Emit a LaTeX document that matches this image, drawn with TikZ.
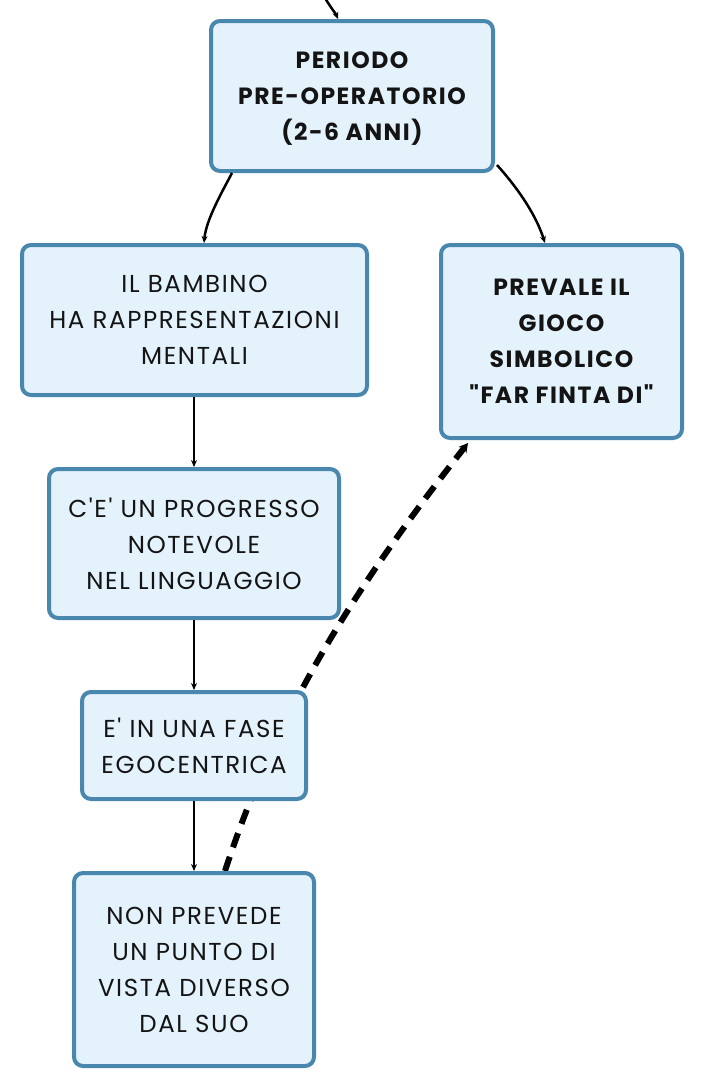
\documentclass[tikz,border=0pt]{standalone}
\usepackage{fontspec}
\newfontfamily\mfont{Poppins}[LetterSpace=6.5]
\usetikzlibrary{arrows.meta,calc}
\pgfdeclarelayer{bg}
\pgfsetlayers{bg,main}
\definecolor{boxfill}{HTML}{E4F2FC}
\definecolor{boxline}{HTML}{4A87AE}
\definecolor{txt}{HTML}{141414}
\tikzset{
  conceptbox/.style={draw=boxline, fill=boxfill, line width=4pt, rounded corners=9pt,
    align=center, inner sep=0pt, text=txt, font=\mfont\fontsize{24.5}{36}\selectfont},
  boldbox/.style={conceptbox, font=\mfont\fontsize{23.5}{36}\selectfont\bfseries},
  link/.style={line width=2.5pt, -{Stealth[length=7pt,width=6pt]}},
  dashlink/.style={line width=6pt, dash pattern=on 15pt off 10pt, -{Stealth[length=9pt,width=10pt]}}
}
\begin{document}
\begin{tikzpicture}[x=1pt,y=-1pt]
\useasboundingbox (0,0) rectangle (705,1088);
\begin{pgfonlayer}{bg}
\fill[white] (0,0) rectangle (705,1088);
\end{pgfonlayer}
\node[boldbox, minimum width=282pt, minimum height=150pt, text depth=0pt] (top) at (352,96)
  {PERIODO\\PRE-OPERATORIO\\(2-6 ANNI)};
\node[conceptbox, minimum width=345pt, minimum height=150pt] (mental) at (194.5,320)
  {IL BAMBINO\\HA RAPPRESENTAZIONI\\MENTALI};
\node[boldbox, minimum width=241pt, minimum height=193pt] (gioco) at (561.5,341.5)
  {PREVALE IL\\GIOCO\\SIMBOLICO\\"FAR FINTA DI"};
\node[conceptbox, minimum width=290pt, minimum height=149pt] (ling) at (194,543.5)
  {C'E' UN PROGRESSO\\NOTEVOLE\\NEL LINGUAGGIO};
\node[conceptbox, minimum width=224pt, minimum height=107pt] (ego) at (194,745.5)
  {E' IN UNA FASE\\EGOCENTRICA};
\node[conceptbox, minimum width=240pt, minimum height=193pt] (vista) at (194,969.5)
  {NON PREVEDE\\UN PUNTO DI\\VISTA DIVERSO\\DAL SUO};
\coordinate (inc) at (325,-2);
\draw[link] (inc) .. controls (331,8) and (336,14) .. (top.north -| 338,0);
\draw[link] ($(top.south west)+(23,0)$) .. controls (222,192) and (206,220) .. (mental.north -| 204,0);
\draw[link] ($(top.south east)+(2,-8)$) .. controls (515,185) and (535,212) .. (gioco.north -| 545,0);
\draw[link] (ling.north |- mental.south) -- (ling.north);
\draw[link] (ling.south) -- (ego.north);
\draw[link] (ego.south) -- (vista.north);
\begin{pgfonlayer}{bg}
\draw[dashlink] (vista.north -| 225,0) .. controls (275,718) and (346,598) .. ($(gioco.south west)+(29,3)$);
\end{pgfonlayer}
\end{tikzpicture}
\end{document}
